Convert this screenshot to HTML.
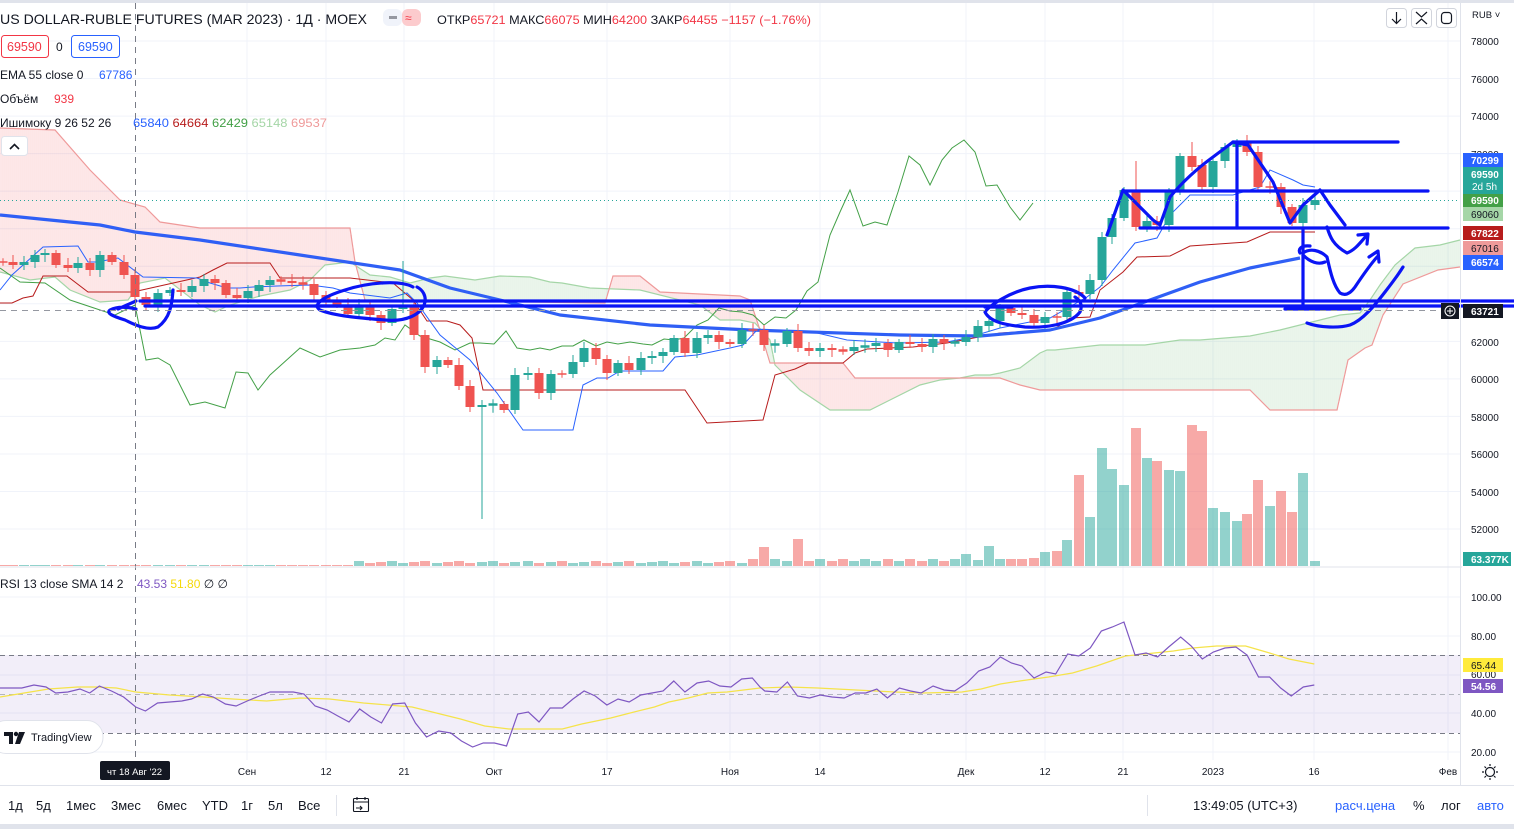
<!DOCTYPE html>
<html><head><meta charset="utf-8">
<style>
html,body{margin:0;padding:0;background:#fff;}
body{width:1514px;height:829px;overflow:hidden;position:relative;font-family:"Liberation Sans","DejaVu Sans",sans-serif;}
svg{position:absolute;left:0;top:0;}
text{font-family:"Liberation Sans","DejaVu Sans",sans-serif;}
</style></head>
<body>
<svg id="s" width="1514" height="829" viewBox="0 0 1514 829" xmlns="http://www.w3.org/2000/svg">
<rect x="0" y="0" width="1514" height="829" fill="#fff"/>
<rect x="0" y="0" width="1514" height="3" fill="#e0e3eb"/>
<g id="grid" stroke="#f0f3fa" stroke-width="1"></g>
<g id="cloud"></g>
<g id="vol"></g>
<g id="lines" fill="none"></g>
<g id="candles"></g>
<g id="rsi"></g>
<g id="draw" fill="none" stroke="#0a14f5" stroke-width="3.2" stroke-linecap="round" stroke-linejoin="round"></g>

<line x1="135.5" y1="3" x2="135.5" y2="760" stroke="#787b86" stroke-dasharray="6,5" stroke-width="1"/>
<line x1="0" y1="310.5" x2="1460" y2="310.5" stroke="#9598a1" stroke-dasharray="6,5" stroke-width="1"/>
<line x1="0" y1="200.5" x2="1460" y2="200.5" stroke="#26a69a" stroke-dasharray="1,3" stroke-width="1"/>

<line x1="0" y1="567" x2="1462" y2="567" stroke="#e0e3eb"/>
<line x1="0" y1="785.5" x2="1514" y2="785.5" stroke="#e0e3eb"/>
<rect x="0" y="824" width="1514" height="5" fill="#e0e3eb"/>

<text x="0" y="24" font-size="14" fill="#131722" textLength="367" lengthAdjust="spacingAndGlyphs">US DOLLAR-RUBLE FUTURES (MAR 2023) · 1Д · MOEX</text>
<rect x="383" y="9" width="19" height="17" rx="6" fill="#f0f3fa"/>
<rect x="389" y="16" width="8" height="3" fill="#9598a1"/>
<rect x="402" y="9" width="19" height="17" rx="6" fill="#fccbcd"/>
<text x="405" y="22" font-size="12" fill="#f23645">≈</text>
<text x="437" y="24" font-size="12" fill="#131722" textLength="374" lengthAdjust="spacingAndGlyphs">ОТКР<tspan fill="#f23645">65721</tspan> МАКС<tspan fill="#f23645">66075</tspan> МИН<tspan fill="#f23645">64200</tspan> ЗАКР<tspan fill="#f23645">64455</tspan> <tspan fill="#f23645">−1157 (−1.76%)</tspan></text>
<rect x="1.5" y="35.5" width="47" height="22" rx="3" fill="#fff" stroke="#f23645"/>
<text x="7" y="51" font-size="12.5" fill="#f23645">69590</text>
<text x="56" y="51" font-size="12" fill="#131722">0</text>
<rect x="71.5" y="35.5" width="48" height="22" rx="3" fill="#fff" stroke="#2962ff"/>
<text x="78" y="51" font-size="12.5" fill="#2962ff">69590</text>
<text x="0" y="79" font-size="12" fill="#131722">EMA 55 close 0 <tspan x="99" fill="#2962ff">67786</tspan></text>
<text x="0" y="103" font-size="12" fill="#131722">Объём <tspan x="54" fill="#f23645">939</tspan></text>
<text x="0" y="127" font-size="12" fill="#131722">Ишимоку 9 26 52 26</text>
<text x="133" y="127" font-size="12" fill="#2962ff" textLength="194" lengthAdjust="spacingAndGlyphs">65840 <tspan fill="#b71c1c">64664</tspan> <tspan fill="#43a047">62429</tspan> <tspan fill="#a5d6a7">65148</tspan> <tspan fill="#ef9a9a">69537</tspan></text>
<rect x="1.5" y="136.5" width="26" height="19" rx="3" fill="#fff" stroke="#e0e3eb"/>
<path d="M10 149 L14.5 144.5 L19 149" stroke="#131722" stroke-width="1.6" fill="none"/>
<text x="0" y="588" font-size="12" fill="#131722">RSI 13 close SMA 14 2 <tspan x="137" fill="#7e57c2">43.53</tspan> <tspan fill="#f5d90a">51.80</tspan> ∅ ∅</text>

<g fill="#fff" stroke="#d1d4dc">
<rect x="1386.5" y="8.5" width="20" height="19" rx="3"/>
<rect x="1411.5" y="8.5" width="20" height="19" rx="3"/>
<rect x="1436.5" y="8.5" width="20" height="19" rx="3"/>
</g>
<path d="M1396.5 12 V23 M1392 19 L1396.5 23.5 L1401 19" stroke="#131722" fill="none" stroke-width="1.2"/>
<path d="M1416 12 L1421.5 17 L1427 12 M1416 24 L1421.5 19 L1427 24" stroke="#131722" fill="none" stroke-width="1.2"/>
<rect x="1441.5" y="12.5" width="10" height="11" rx="3" stroke="#131722" fill="none" stroke-width="1.2"/>
<text x="1472" y="18" font-size="9.5" fill="#131722">RUB ˅</text>

<line x1="1460.5" y1="3" x2="1460.5" y2="785" stroke="#e0e3eb"/>
<g font-size="10" fill="#131722"><text x="1471" y="45">78000</text>
<text x="1471" y="83">76000</text>
<text x="1471" y="120">74000</text>
<text x="1471" y="158">72000</text>
<text x="1471" y="346">62000</text>
<text x="1471" y="383">60000</text>
<text x="1471" y="421">58000</text>
<text x="1471" y="458">56000</text>
<text x="1471" y="496">54000</text>
<text x="1471" y="533">52000</text>
<text x="1471" y="601">100.00</text>
<text x="1471" y="640">80.00</text>
<text x="1471" y="678">60.00</text>
<text x="1471" y="717">40.00</text>
<text x="1471" y="756">20.00</text></g>
<g font-size="10" font-weight="bold">
<rect x="1463" y="153" width="40" height="14" fill="#2962ff"/><text x="1471" y="164" fill="#fff">70299</text>
<rect x="1463" y="167" width="40" height="27" fill="#26a69a"/><text x="1471" y="178" fill="#fff">69590</text><text x="1472" y="190" fill="#fff" font-weight="normal">2d 5h</text>
<rect x="1463" y="194" width="40" height="13" fill="#43a047"/><text x="1471" y="204" fill="#fff">69590</text>
<rect x="1463" y="207" width="40" height="14" fill="#a5d6a7"/><text x="1471" y="218" fill="#131722" font-weight="normal">69060</text>
<rect x="1463" y="226" width="40" height="14" fill="#b71c1c"/><text x="1471" y="237" fill="#fff">67822</text>
<rect x="1463" y="241" width="40" height="14" fill="#ef9a9a"/><text x="1471" y="252" fill="#131722" font-weight="normal">67016</text>
<rect x="1463" y="255" width="40" height="15" fill="#2962ff"/><text x="1471" y="266" fill="#fff">66574</text>
<rect x="1463" y="304" width="40" height="14" fill="#131722"/><text x="1471" y="315" fill="#fff">63721</text>
<rect x="1441" y="303" width="18" height="16" fill="#131722"/><circle cx="1450" cy="311" r="5" stroke="#fff" fill="none"/><path d="M1447 311 H1453 M1450 308 V314" stroke="#fff"/>
<rect x="1463" y="552" width="48" height="14" fill="#26a69a"/><text x="1471" y="563" fill="#fff">63.377K</text>
<rect x="1463" y="658" width="40" height="14" fill="#ffeb3b"/><text x="1471" y="669" fill="#131722" font-weight="normal">65.44</text>
<rect x="1463" y="679" width="40" height="14" fill="#7e57c2"/><text x="1471" y="690" fill="#fff">54.56</text>
</g>

<g font-size="10" fill="#131722" text-anchor="middle">
<text x="247" y="775">Сен</text><text x="326" y="775">12</text><text x="404" y="775">21</text>
<text x="494" y="775">Окт</text><text x="607" y="775">17</text><text x="730" y="775">Ноя</text>
<text x="820" y="775">14</text><text x="966" y="775">Дек</text><text x="1045" y="775">12</text>
<text x="1123" y="775">21</text><text x="1213" y="775">2023</text><text x="1314" y="775">16</text>
<text x="1448" y="775">Фев</text>
</g>
<rect x="100" y="761" width="70" height="19" rx="2" fill="#131722"/>
<text x="107" y="775" font-size="9.5" fill="#fff">чт 18 Авг '22</text>
<circle cx="1490" cy="772" r="4.5" fill="none" stroke="#131722" stroke-width="1.2"/>
<path d="M1490 764 V766 M1490 778 V780 M1482 772 H1484 M1496 772 H1498 M1484.5 766.5 L1486 768 M1495.5 777.5 L1494 776 M1484.5 777.5 L1486 776 M1495.5 766.5 L1494 768" stroke="#131722" stroke-width="1.2"/>

<rect x="-10" y="720.5" width="113" height="33" rx="16" fill="#fff" stroke="#e0e3eb"/>
<path d="M4 732 H13 V744 H9 V736 H4 Z" fill="#131722"/><circle cx="16" cy="734" r="2.2" fill="#131722"/><path d="M19 732 H25 L20 744 H15 Z" fill="#131722"/>
<text x="31" y="741" font-size="11" fill="#131722">TradingView</text>

<g font-size="13" fill="#131722">
<text x="8" y="810">1д</text><text x="36" y="810">5д</text><text x="66" y="810">1мес</text>
<text x="111" y="810">3мес</text><text x="157" y="810">6мес</text><text x="202" y="810">YTD</text>
<text x="241" y="810">1г</text><text x="268" y="810">5л</text><text x="298" y="810">Все</text>
<text x="1193" y="810">13:49:05 (UTC+3)</text>
<text x="1335" y="810" fill="#2962ff">расч.цена</text>
<text x="1413" y="810">%</text><text x="1441" y="810">лог</text>
<text x="1477" y="810" fill="#2962ff">авто</text>
</g>
<line x1="336.5" y1="795" x2="336.5" y2="816" stroke="#e0e3eb"/>
<line x1="1147.5" y1="795" x2="1147.5" y2="816" stroke="#e0e3eb"/>
<rect x="353.5" y="798.5" width="15" height="13" rx="1" fill="none" stroke="#131722" stroke-width="1.1"/>
<path d="M353 802 H369 M357 797 V800 M365 797 V800 M356 808 H362 M360 806 L362 808 L360 810" stroke="#131722" fill="none" stroke-width="1.1"/>
</svg>
<script>
(function(){
var NS="http://www.w3.org/2000/svg";
function el(p,t,a){var e=document.createElementNS(NS,t);for(var k in a)e.setAttribute(k,a[k]);document.getElementById(p).appendChild(e);return e;}
function pts(a){var s=[];for(var i=0;i<a.length;i+=2)s.push(a[i]+","+a[i+1]);return s.join(" ");}
for(var k=0;k<14;k++){var y=41+37.54*k;if(y<566)el("grid","line",{x1:0,x2:1460,y1:y,y2:y});}
[597,636,675,713,752].forEach(function(y){el("grid","line",{x1:0,x2:1460,y1:y,y2:y});});
[247,326,404,494,607,730,820,966,1045,1123,1213,1314,1448].forEach(function(x){el("grid","line",{x1:x,x2:x,y1:3,y2:760});});
var A=[0,272,30,280,55,277,70,290,100,302,128,300,140,283,165,278,200,305,215,312,230,305,260,296,290,290,310,280,325,265,350,262,370,275,390,277,410,283,430,278,445,276,475,280,500,276,530,277,550,282,562,283,590,288,640,290,700,305,720,320,740,320,755,323,770,340,775,365,780,370,800,390,830,410,850,410,870,410,890,400,920,385,940,380,960,378,975,375,990,375,1000,373,1020,368,1040,353,1047,350,1055,350,1100,345,1145,345,1180,340,1200,340,1250,336,1280,330,1300,325,1320,320,1340,315,1360,313,1370,300,1380,285,1395,265,1415,248,1440,245,1460,240];
var B=[0,128,55,130,90,170,120,200,145,207,160,222,200,228,350,228,355,262,365,300,605,303,613,276,640,276,660,292,740,296,750,300,760,330,770,363,843,363,855,378,1000,378,1020,385,1040,390,1250,390,1270,410,1337,410,1348,360,1365,348,1372,345,1383,315,1403,284,1438,270,1460,267];
function interp(a,x){for(var i=0;i<a.length-2;i+=2){if(x>=a[i]&&x<=a[i+2]){var t=(x-a[i])/((a[i+2]-a[i])||1);return a[i+1]+t*(a[i+3]-a[i+1]);}}return a[a.length-1];}
for(var x=0;x<1460;x+=2){var ya=interp(A,x+1),yb=interp(B,x+1);var top=Math.min(ya,yb),h=Math.abs(ya-yb);
 el("cloud","rect",{x:x,y:top,width:2.05,height:h,fill:ya<yb?"rgba(67,160,71,0.11)":"rgba(242,54,69,0.12)"});}
el("cloud","polyline",{points:pts(A),fill:"none",stroke:"#a5d6a7","stroke-width":1.2});
el("cloud","polyline",{points:pts(B),fill:"none",stroke:"#ef9a9a","stroke-width":1.2});
var C=[3,262,13,265,24,262,35,255,45,253,56,265,68,268,78,263,90,270,100,255,112,262,124,275,135,297,146,305,158,293,170,290,181,292,192,286,204,279,215,283,226,295,237,298,248,291,259,285,270,280,281,281,292,283,303,284,314,295,326,300,337,305,348,314,359,305,370,315,381,323,392,309,403,307,414,335,425,367,437,360,448,365,459,386,470,407,482,405,493,404,504,410,515,375,528,373,539,393,551,374,562,374,573,362,584,348,596,359,607,373,618,363,629,370,641,358,652,356,663,352,674,338,685,353,697,338,708,335,719,342,730,344,742,330,753,330,764,345,775,344,787,331,798,348,809,351,820,348,832,350,843,351,854,347,865,346,876,343,888,350,899,342,910,344,922,347,933,339,944,343,955,342,966,337,978,326,989,321,1000,308,1011,313,1022,315,1034,323,1045,317,1057,317,1067,292,1079,294,1090,280,1102,237,1112,218,1124,190,1136,227,1147,221,1157,225,1169,192,1180,156,1192,167,1202,187,1213,161,1225,147,1237,142,1247,152,1258,187,1270,187,1281,207,1292,223,1303,205,1315,200];
var wickX={403:[261,0],1136:[161,0],1192:[142,0]};
var VOL={966:[554,1],978:[560,1],989:[546,1],1000:[559,1],1011:[559,0],1022:[559,0],1034:[558,0],1045:[552,1],1057:[551,0],1067:[540,1],1079:[475,0],1090:[517,1],1102:[448,1],1112:[469,1],1124:[485,1],1136:[428,0],1147:[458,1],1157:[461,0],1169:[470,1],1180:[471,1],1192:[425,0],1202:[431,0],1213:[508,1],1225:[512,1],1237:[521,1],1247:[514,0],1258:[480,0],1270:[506,1],1281:[491,0],1292:[512,0],1303:[473,1],1315:[561,1],764:[547,0],798:[539,0]};
var prev=C[1];
for(var i=0;i<C.length;i+=2){var x=C[i],c=C[i+1],o=(i==0?262:prev);
 if(x==1136)o=192; if(x==1202)o=165; if(x==425)o=335;
 var up=c<o,col=up?"#26a69a":"#ef5350";var t=Math.min(o,c),b=Math.max(o,c);if(b-t<1.5){t-=0.75;b+=0.75;}
 var hi=t-3-((i*7)%5),lo=b+3+((i*3)%5);var w=wickX[x];if(w){if(w[0])hi=w[0];if(w[1])lo=w[1];}
 if(x==482)lo=519;
 el("candles","line",{x1:x,x2:x,y1:hi,y2:lo,stroke:col,"stroke-width":1});
 el("candles","rect",{x:x-4.5,y:t,width:9,height:b-t,fill:col});
 var v=VOL[x],vt,vc;
 if(v){vt=v[0];vc=v[1]?"rgba(38,166,154,0.5)":"rgba(239,83,80,0.5)";}
 else{vt=x<350?565:(x<750?563-((i*5)%3):561-((i*3)%4));vc=up?"rgba(38,166,154,0.5)":"rgba(239,83,80,0.5)";}
 el("vol","rect",{x:x-5,y:vt,width:10,height:566-vt,fill:vc});
 prev=c;}
var EMA=[0,215,100,225,135,232,200,240,300,255,400,270,450,288,500,300,560,315,650,325,750,330,900,335,980,336,1050,330,1100,318,1150,300,1200,282,1250,268,1300,258];
var TEN=[0,290,12,275,43,247,78,246,88,262,97,262,118,258,143,277,197,278,210,283,227,288,240,288,253,287,277,286,310,285,333,288,350,293,390,298,407,293,417,303,440,335,470,360,497,393,518,423,523,430,573,430,583,385,597,378,608,378,620,371,663,371,675,357,697,355,730,348,743,345,757,330,813,332,847,340,897,343,947,342,967,338,1000,328,1050,318,1087,297,1100,287,1113,270,1135,243,1157,238,1170,215,1190,195,1233,195,1260,187,1270,170,1293,180,1303,185,1315,187];
var KIJ=[0,303,12,303,23,298,33,296,43,276,67,276,88,292,133,292,200,277,213,270,227,263,270,263,280,278,350,278,393,283,413,300,427,321,447,321,460,325,472,338,483,390,685,390,707,423,763,420,775,375,795,369,808,363,843,363,855,353,867,349,913,347,947,343,1000,333,1053,330,1070,318,1090,317,1100,290,1123,272,1137,257,1170,256,1190,246,1247,242,1270,232,1315,232];
var CHI=[0,268,20,282,45,283,70,300,100,310,115,315,125,310,135,305,146,360,158,358,170,365,190,405,205,402,225,408,236,372,248,373,258,390,270,375,280,366,300,348,320,357,340,350,360,348,375,345,385,338,395,340,405,325,420,336,440,342,455,350,470,343,480,343,494,344,506,331,517,348,530,350,540,348,550,350,562,346,573,346,584,340,596,346,607,342,618,344,630,342,643,344,652,345,664,339,674,340,684,338,697,325,708,320,719,308,730,311,742,312,753,315,764,325,775,317,786,318,796,310,807,291,818,282,830,235,840,212,850,190,863,226,875,222,887,225,898,192,909,156,920,165,930,185,942,160,952,148,964,140,975,152,986,186,997,185,1010,207,1020,220,1033,203];
el("lines","polyline",{points:pts(CHI),stroke:"#43a047","stroke-width":1});
el("lines","polyline",{points:pts(KIJ),stroke:"#b71c1c","stroke-width":1});
el("lines","polyline",{points:pts(TEN),stroke:"#2962ff","stroke-width":1});
el("lines","polyline",{points:pts(EMA),stroke:"#2f5ff5","stroke-width":3.2,"stroke-linejoin":"round"});
el("rsi","rect",{x:0,y:655,width:1460,height:78,fill:"rgba(126,87,194,0.1)"});
[655,694,733].forEach(function(y){el("rsi","line",{x1:0,x2:1460,y1:y+0.5,y2:y+0.5,stroke:y==694?"#b2b5be":"#787b86","stroke-dasharray":"5,4"});});
var K1=2.063,K2=2.08;
var R1=[0,688,45,688,70,685,95,687,115,693,140,692,165,689,185,693,205,686,230,691,255,697,280,707,300,711,325,703,350,702,375,701,395,699,418,694,440,697,465,704,487,706,510,701,535,696,557,692,580,692,605,692,627,694,650,706,675,710,697,716,720,722,742,709,765,717,787,723,810,704,835,703,857,723,880,737,905,731,930,733,952,741,975,747,997,743,1020,743,1045,746,1068,714,1090,712,1112,722,1135,708,1160,708,1182,699,1205,691,1228,696,1252,705,1275,699,1298,702,1322,695,1345,693,1368,691,1390,681,1413,692,1438,683,1462,681,1485,686,1508,687,1530,679,1552,678];
var r=[];for(var i=0;i<R1.length;i+=2)r.push(R1[i]/K1,R1[i+1]);
var R2=[0,687,10,691,35,692,57,682,78,696,103,698,125,695,150,697,175,698,198,693,220,693,243,689,265,698,290,688,313,691,335,693,360,686,383,690,405,691,430,683,455,671,478,667,500,657,523,663,545,666,570,678,595,672,615,674,640,654,663,656,687,648,710,631,733,627,757,622,780,655,803,653,827,657,850,647,875,637,897,646,920,659,943,652,967,648,990,647,1013,655,1037,677,1060,677,1083,688,1105,696,1130,687,1153,685];
for(var i=0;i<R2.length;i+=2)r.push(760+R2[i]/K2,R2[i+1]);
var S1=[0,697,50,693,100,689,160,687,200,687,240,688,280,692,350,695,420,697,480,699,550,701,620,698,680,699,750,703,800,705,850,707,900,713,950,719,1000,726,1050,729,1100,729,1160,729,1200,724,1260,718,1300,713,1350,707,1380,702,1420,698,1460,693,1500,692];
var s=[];for(var i=0;i<S1.length;i+=2)s.push(S1[i]/K1,S1[i+1]);
var S2=[0,688,60,687,120,688,200,690,280,692,340,693,420,692,460,689,500,684,540,681,600,677,650,673,700,666,760,656,800,654,860,651,900,648,950,646,1010,646,1060,653,1100,659,1153,664];
for(var i=0;i<S2.length;i+=2)s.push(760+S2[i]/K2,S2[i+1]);
el("rsi","polyline",{points:pts(s),fill:"none",stroke:"#f5e34a","stroke-width":1.2});
el("rsi","polyline",{points:pts(r),fill:"none",stroke:"#7e57c2","stroke-width":1.2});
function d(p){el("draw","path",{d:p});}
d("M140 301 H1514");d("M145 306 H1514");
d("M173 290 C172 305 170 318 158 327 C148 331 135 325 125 320 C112 316 106 313 110 310 C118 306 128 307 136 309 M118 309 L136 301");
d("M413 287 C400 280 370 282 345 290 C322 297 312 305 320 310 C335 316 360 318 385 320 C405 322 422 315 425 302 C426 296 423 290 417 287 M315 306 L360 306");
d("M1085 298 C1075 287 1050 284 1030 288 C1010 292 990 305 985 312 C990 322 1005 325 1025 327 C1045 328 1070 325 1080 312 C1083 305 1080 300 1075 297 M985 307 L1012 307");
d("M1233 142 H1398");d("M1123 191 H1428");d("M1140 228 H1448");d("M1237 142 V228");d("M1303 228 V306");d("M1285 309 H1360");
d("M1107 235 L1123 190 L1153 220 L1160 225 L1170 197 C1180 185 1195 170 1213 157 L1233 142 L1248 145 L1273 182 L1290 223 L1303 205 L1320 190 L1330 205 L1345 225");
d("M1327 227 C1330 237 1333 245 1347 253 C1355 250 1360 243 1367 235 M1358 235 L1368 234 L1367 244");
d("M1303 253 C1310 248 1320 250 1327 257 C1330 270 1333 285 1340 293 C1345 296 1350 294 1355 287 C1363 275 1370 265 1377 257 M1369 257 L1378 251 L1379 262");
d("M1307 323 C1320 328 1340 328 1350 325 C1363 320 1375 305 1385 292 C1392 283 1398 275 1403 267");
d("M1303 255 C1310 262 1318 265 1325 262 M1300 253 C1298 250 1300 245 1310 246");
})();
</script>
</body></html>
